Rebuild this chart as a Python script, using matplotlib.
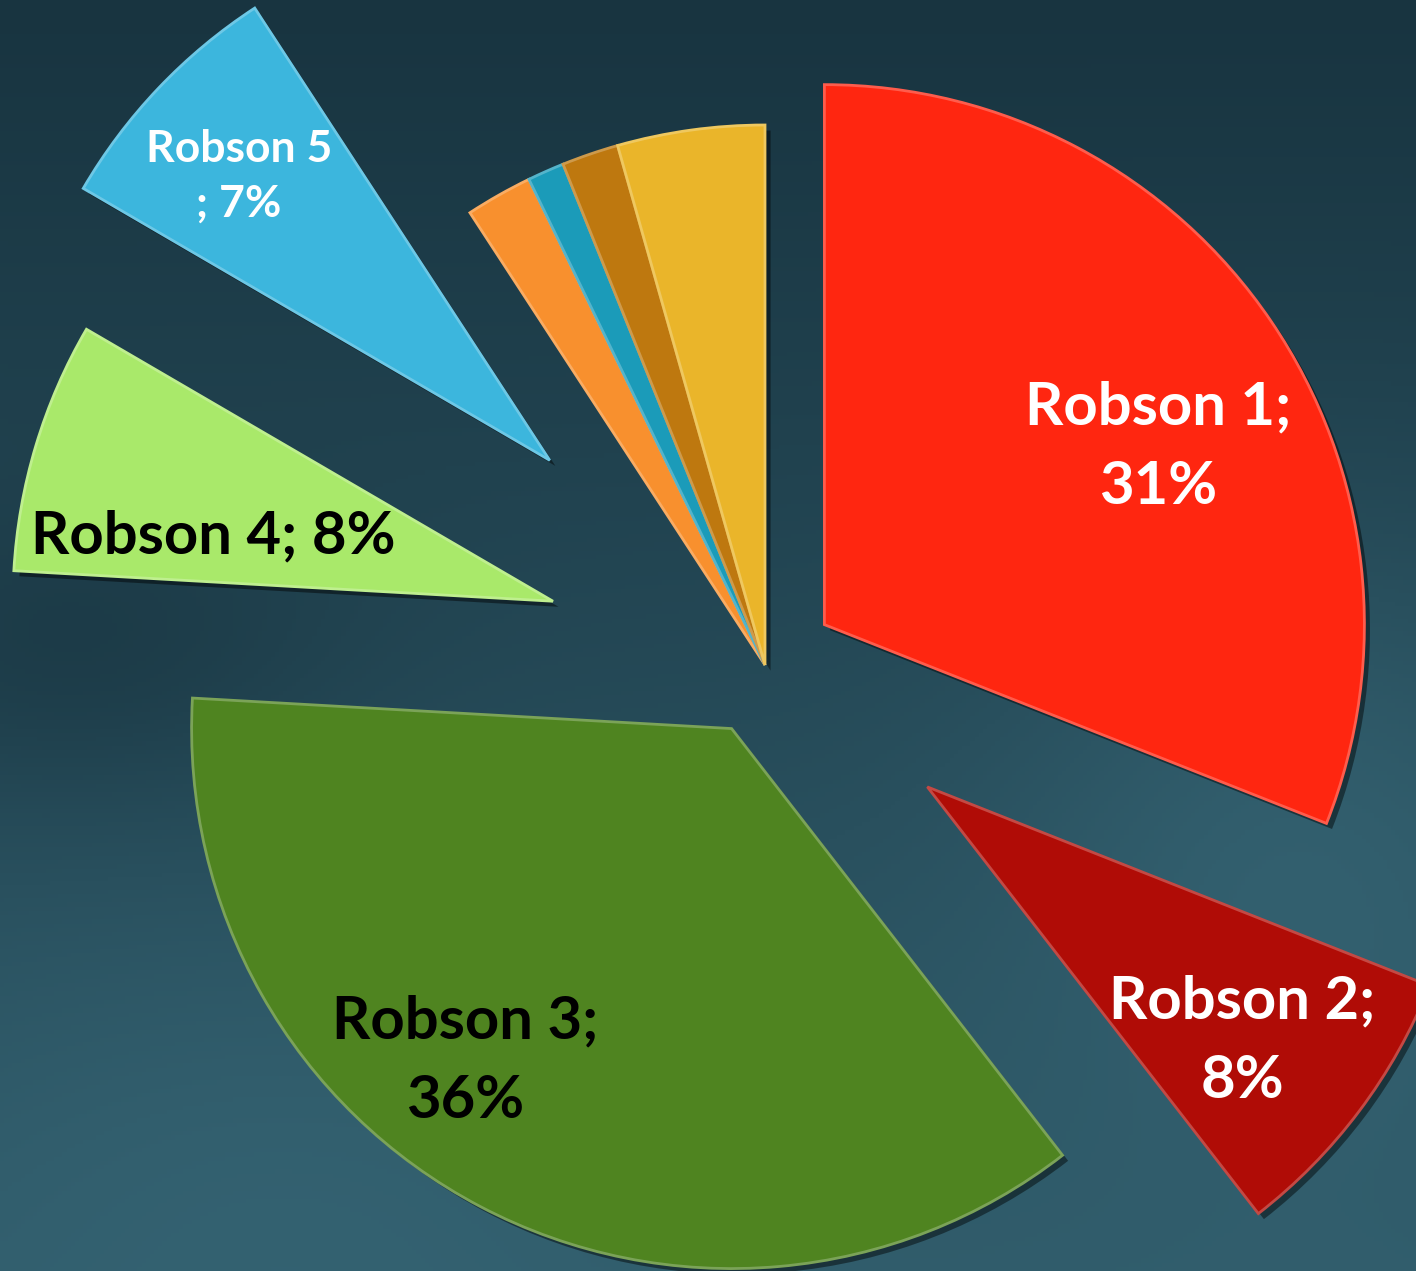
import numpy as np
import matplotlib
matplotlib.use("Agg")
import matplotlib.pyplot as plt
import matplotlib.patheffects as pe
from matplotlib.colors import to_rgb

# ---- data ----
categories = ["Robson 1", "Robson 2", "Robson 3", "Robson 4", "Robson 5",
              "Robson 6", "Robson 7", "Robson 8", "Robson 9/10"]
values = [31, 8.5, 36.4, 7.5, 7.4, 2.0, 1.1, 1.7, 4.4]
label_texts = ["Robson 1;\n31%", "Robson 2;\n8%", "Robson 3;\n36%",
               "Robson 4; 8%", "Robson 5\n; 7%", "", "", "", ""]
colors = ["#FF2610", "#B00C06", "#4F8420", "#A9E96A", "#3CB6DD",
          "#F8902E", "#1B9BB9", "#BE780F", "#EAB52A"]
explode_frac = [0.133, 0.376, 0.133, 0.41, 0.55, 0, 0, 0, 0]
label_color = ["white", "white", "black", "black", "white", "", "", "", ""]
label_size = [43, 43, 43, 43, 32, 0, 0, 0, 0]
label_lsp = [1.58, 1.58, 1.58, 1.2, 1.45, 0, 0, 0, 0]
label_frac = [0.70, 0.75, 0.79, 0.64, 0.78, 0, 0, 0, 0]
label_dang = [-6.2, -2.0, -11.0, 6.0, 1.1, 0, 0, 0, 0]

W, H = 1416, 1271
fig = plt.figure(figsize=(W / 100, H / 100), dpi=100)
ax = fig.add_axes([0, 0, 1, 1])

# background gradient (dark teal, lighter toward the bottom and right)
yy, xx = np.mgrid[0:1:300j, 0:1:340j]  # yy=0 bottom
dark = np.array([24, 52, 64]) / 255
light = np.array([58, 108, 124]) / 255
t = 0.7 * (1 - yy)
t += 0.3 * np.exp(-(((xx - 0.92) / 0.22) ** 2 + ((yy - 0.35) / 0.25) ** 2))
t += 0.15 * np.exp(-(((xx - 0.2) / 0.3) ** 2 + ((yy - 0.1) / 0.2) ** 2))
t -= 0.22 * np.exp(-(((xx - 0.05) / 0.2) ** 2 + ((yy - 0.48) / 0.12) ** 2))
t = np.clip(t, 0, 1)
bg = dark[None, None, :] * (1 - t[..., None]) + light[None, None, :] * t[..., None]
ax.imshow(bg, extent=[0, W, 0, H], origin="lower", aspect="auto", zorder=0)

def lighter(c, f=0.35):
    r = np.array(to_rgb(c))
    return tuple(r + (1 - r) * f)

radius = 540
center = (765, 606)
wedges, _ = ax.pie(values, colors=colors, startangle=90, counterclock=False,
                   radius=radius, center=center,
                   explode=[e * radius for e in explode_frac],
                   wedgeprops=dict(linewidth=2.0), frame=True)
ax.set_xlim(0, W)
ax.set_ylim(0, H)
ax.set_aspect("equal")
ax.axis("off")

for w, c in zip(wedges, colors):
    w.set_edgecolor(lighter(c, 0.25))
    w.set_zorder(2)
    w.set_path_effects([pe.SimplePatchShadow(offset=(4, -4), shadow_rgbFace="black", alpha=0.45),
                        pe.Normal()])

for w, txt, col, fs, fr, da, ls in zip(wedges, label_texts, label_color, label_size,
                                        label_frac, label_dang, label_lsp):
    if not txt:
        continue
    mid = 0.5 * (w.theta1 + w.theta2) + da
    cx, cy = w.center
    x = cx + fr * w.r * np.cos(np.radians(mid))
    y = cy + fr * w.r * np.sin(np.radians(mid))
    ax.text(x, y, txt, ha="center", va="center", color=col, fontsize=fs,
            fontweight="bold", family=["Lato", "DejaVu Sans"], linespacing=ls, zorder=5)

fig.savefig("out.png", dpi=100)
